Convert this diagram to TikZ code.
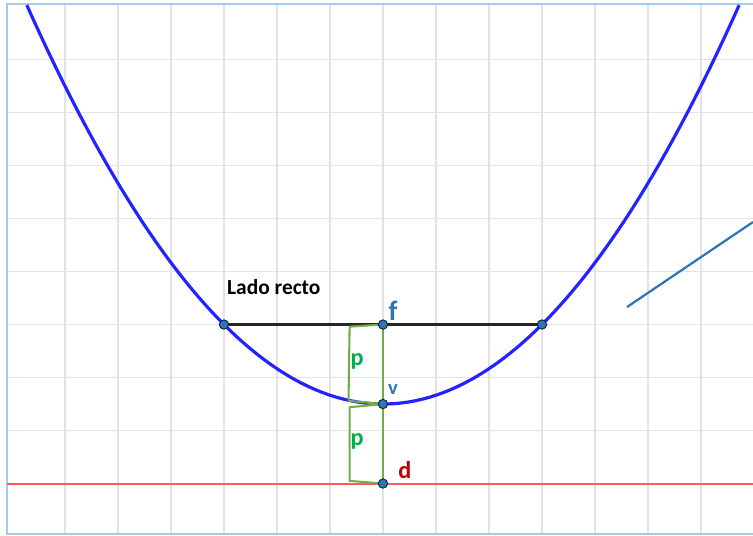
\documentclass[tikz,border=0pt]{standalone}
\usepackage{fontspec}
\setmainfont{Carlito}
\usepackage{xcolor}
\usetikzlibrary{arrows.meta}

\definecolor{curva}{HTML}{2323FF}
\definecolor{punto}{HTML}{2E75B6}
\definecolor{verde}{HTML}{70AD47}
\definecolor{textoverde}{HTML}{00B050}
\definecolor{rojo}{HTML}{C00000}
\definecolor{marco}{HTML}{A9C8E8}

\tikzset{
  rejilla/.style={draw=gray!22, line width=1pt},
  vertice/.style={circle, fill=punto, draw=black!70!punto, line width=0.5pt, inner sep=0pt, minimum size=5pt},
  llave/.style={verde, line width=1.1pt, line join=round},
}

\begin{document}
\begin{tikzpicture}[line width=1pt, font=\bfseries]
        \useasboundingbox (-7.226,-2.472) rectangle (6.981,7.623);
        % rejilla
        \foreach \x in {-6,...,6}
            \draw[rejilla] (\x,-2.45) -- (\x,7.55);
        \foreach \y in {-0.5,0.5,...,6.5}
            \draw[rejilla] (-7.09,\y) -- (6.981,\y);
        % marco
        \draw[marco, line width=1.1pt] (6.981,7.55) -- (-7.09,7.55) -- (-7.09,-2.45) -- (6.981,-2.45);

        % directriz
        \draw[red!65, line width=1.1pt] (-7.09,-1.5) -- (6.981,-1.5);
        % parabola
        \draw[curva, line width=1.7pt, domain=-6.72:6.72, samples=100] plot (\x, {\x*\x/6});
        % segmento suelto
        \coordinate (s1) at (4.604,1.830);
        \coordinate (s2) at (6.981,3.434);
        \draw[punto, line width=1.2pt] (s1) -- (s2);

        % puntos
        \coordinate (F) at (0,1.5);
        \coordinate (V) at (0,0);
        \coordinate (D) at (0,-1.5);
        \coordinate (L1) at (-3,1.5);
        \coordinate (L2) at (3,1.5);

        % lado recto
        \draw[black!85, line width=1.4pt] (L1) -- (L2);
        % eje y llaves
        \draw[llave] (F) -- (D);
        \draw[llave] (F) -- (-0.63,1.46) -- (-0.65,0.06) -- (V);
        \draw[llave] (V) -- (-0.63,-0.06) -- (-0.63,-1.45) -- (D);

        \foreach \p in {F,V,D,L1,L2}
            \node[vertice] (n\p) at (\p) {};

        % textos
        \node[font=\bfseries\fontsize{11.5}{13}\selectfont] (lado) at (-2.06,2.21) {Lado recto};
        \node[punto, font=\bfseries\fontsize{15}{17}\selectfont] (tf) at (0.19,1.75) {f};
        \node[punto, font=\bfseries\fontsize{11}{13}\selectfont] (tv) at (0.19,0.27) {v};
        \node[rojo, font=\bfseries\fontsize{13}{15}\selectfont] (td) at (0.415,-1.245) {d};
        \node[textoverde, font=\bfseries\fontsize{13}{15}\selectfont] (p1) at (-0.49,0.8) {p};
        \node[textoverde, font=\bfseries\fontsize{13}{15}\selectfont] (p2) at (-0.49,-0.71) {p};
    \end{tikzpicture}
\end{document}
